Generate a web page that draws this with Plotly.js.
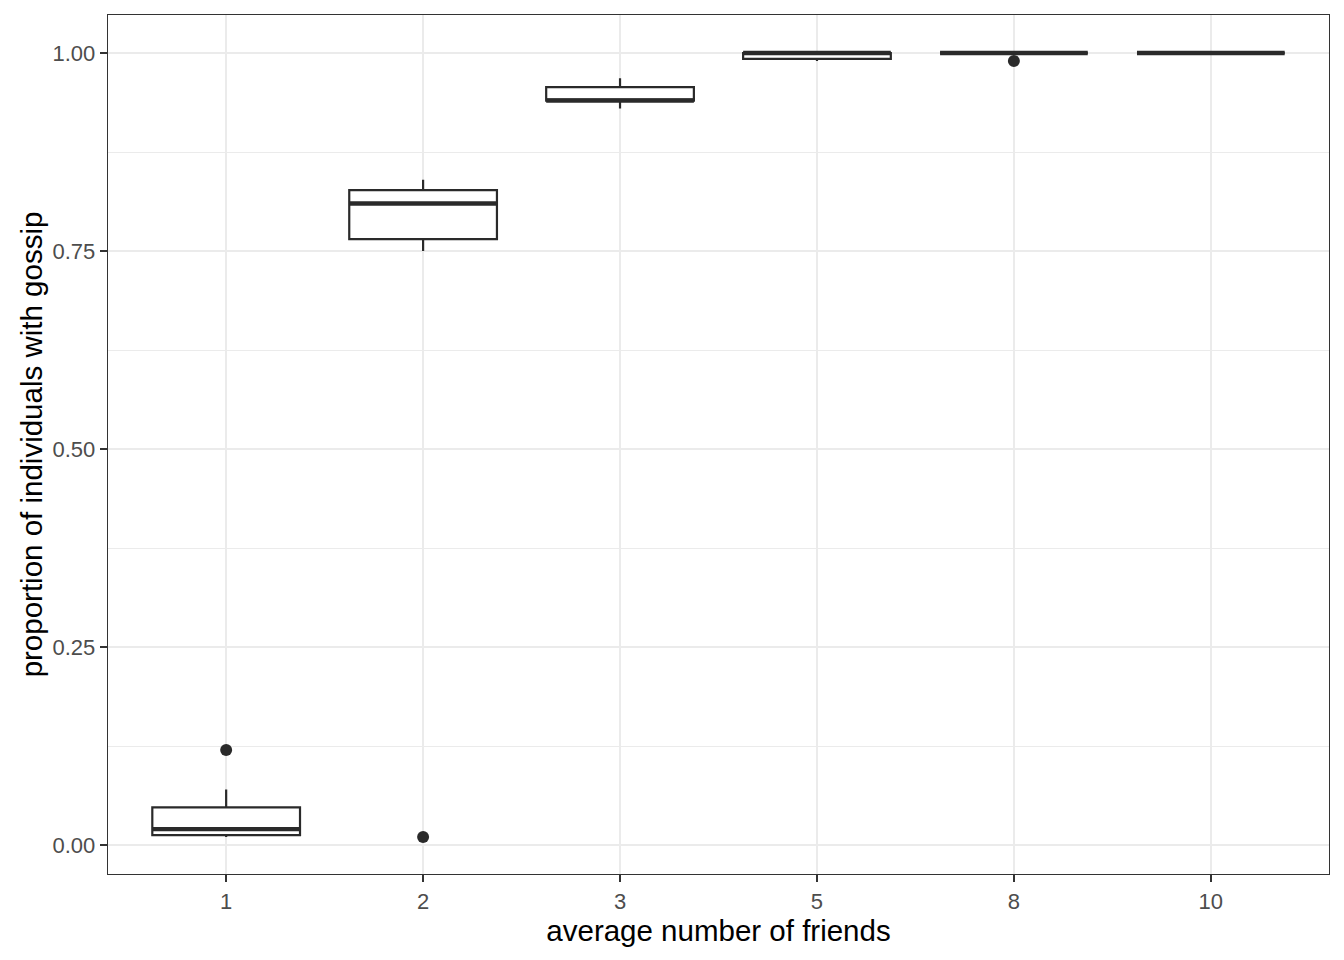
<!DOCTYPE html>
<html>
<head>
<meta charset="utf-8">
<script src="https://cdn.plot.ly/plotly-3.0.1.min.js"></script>
<style>html,body{margin:0;padding:0;background:#fff;}#chart{width:1344px;height:960px;}</style>
</head>
<body>
<div id="chart"></div>
<script>
// categories: average number of friends
var categories = ["1", "2", "3", "5", "8", "10"];
// precomputed box statistics (proportion of individuals with gossip)
var lowerFence = [0.01, 0.75, 0.93, 0.99, 1.0, 1.0];
var q1Values = [0.0125, 0.765, 0.94, 0.9925, 1.0, 1.0];
var medianValues = [0.02, 0.81, 0.94, 1.0, 1.0, 1.0];
var q3Values = [0.0475, 0.827, 0.957, 1.0, 1.0, 1.0];
var upperFence = [0.07, 0.84, 0.968, 1.0, 1.0, 1.0];
// outliers
var outlierX = ["1", "2", "8"];
var outlierY = [0.12, 0.01, 0.99];

var boxColor = '#2a2a2a';
var boxWidth = 0.75;

var traces = [
  {
    type: 'box',
    x: categories,
    q1: q1Values,
    median: medianValues,
    q3: q3Values,
    lowerfence: lowerFence,
    upperfence: upperFence,
    boxpoints: false,
    width: boxWidth,
    whiskerwidth: 0,
    fillcolor: '#ffffff',
    line: {color: boxColor, width: 2.2},
    showlegend: false,
    hoverinfo: 'skip'
  },
  {
    type: 'scatter',
    mode: 'markers',
    x: outlierX,
    y: outlierY,
    marker: {color: boxColor, size: 12},
    showlegend: false,
    hoverinfo: 'skip'
  }
];

// thicker median lines (ggplot style), positioned via the category axis
var shapes = medianValues.map(function (m, i) {
  return {
    type: 'line', xref: 'x', yref: 'y',
    x0: i - boxWidth / 2, x1: i + boxWidth / 2,
    y0: m, y1: m,
    line: {color: boxColor, width: 4.4},
    layer: 'above'
  };
});

var layout = {
  width: 1344,
  height: 960,
  margin: {l: 108, r: 15, t: 15, b: 86, pad: 0},
  paper_bgcolor: '#ffffff',
  plot_bgcolor: '#ffffff',
  font: {family: 'Liberation Sans, Arial, sans-serif', color: '#000000'},
  showlegend: false,
  shapes: shapes,
  xaxis: {
    type: 'category',
    categoryorder: 'array',
    categoryarray: categories,
    range: [-0.6, 5.6],
    showgrid: true,
    gridcolor: '#ebebeb',
    gridwidth: 2,
    zeroline: false,
    showline: true,
    mirror: true,
    linecolor: '#333333',
    linewidth: 1.3,
    ticks: 'outside',
    ticklen: 7,
    tickwidth: 2,
    tickcolor: '#333333',
    tickfont: {size: 22, color: '#4d4d4d'},
    title: {text: 'average number of friends', font: {size: 29.5, color: '#000000'}, standoff: 5},
    automargin: false,
    fixedrange: true
  },
  yaxis: {
    range: [-0.0366, 1.048],
    tickvals: [0, 0.25, 0.5, 0.75, 1.0],
    ticktext: ['0.00', '0.25', '0.50', '0.75', '1.00'],
    showgrid: true,
    gridcolor: '#ebebeb',
    gridwidth: 2,
    minor: {tickvals: [0.125, 0.375, 0.625, 0.875], showgrid: true, gridcolor: '#ebebeb', gridwidth: 1, ticks: ''},
    zeroline: false,
    showline: true,
    mirror: true,
    linecolor: '#333333',
    linewidth: 1.3,
    ticks: 'outside',
    ticklen: 7,
    tickwidth: 2,
    tickcolor: '#333333',
    tickfont: {size: 22, color: '#4d4d4d'},
    title: {text: 'proportion of individuals with gossip', font: {size: 29.5, color: '#000000'}, standoff: 1},
    automargin: false,
    fixedrange: true
  }
};

Plotly.newPlot('chart', traces, layout, {displayModeBar: false, staticPlot: true});
</script>
</body>
</html>
